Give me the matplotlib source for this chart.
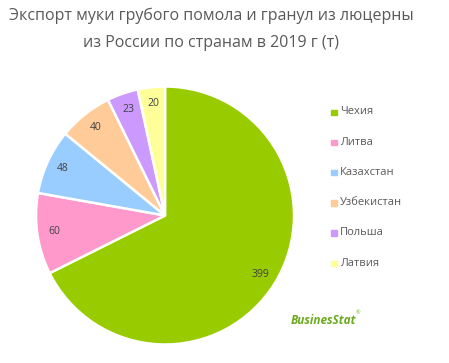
import matplotlib
matplotlib.use('Agg')
import matplotlib.pyplot as plt

countries = ['Чехия', 'Литва', 'Казахстан', 'Узбекистан', 'Польша', 'Латвия']
values = [399, 60, 48, 40, 23, 20]
colors = ['#99CC00', '#FF99CC', '#99CCFF', '#FFCC99', '#CC99FF', '#FFFF99']
title = 'Экспорт муки грубого помола и гранул из люцерны\nиз России по странам в 2019 г (т)'

W, H = 449, 363
fig = plt.figure(figsize=(W / 100, H / 100), dpi=100)
plt.rcParams['font.family'] = ['Open Sans', 'DejaVu Sans']

# pie centre (165, 215) px, radius 129 px
cx, cy, r = 165, 215.5, 129
ax = fig.add_axes([(cx - r) / W, (H - cy - r) / H, 2 * r / W, 2 * r / H])
wedges, texts = ax.pie(values, colors=colors, startangle=90, counterclock=False,
                       labels=[str(v) for v in values], labeldistance=0.87,
                       wedgeprops={'edgecolor': 'white', 'linewidth': 1.8})
for t in texts:
    t.set_ha('center')
    t.set_va('center')
    t.set_fontsize(7.5)
    t.set_color('#404040')
ax.set_xlim(-1, 1)
ax.set_ylim(-1, 1)
ax.set_aspect('equal')
ax.axis('off')

fig.text(0.47, 1 - 29 / H, title, ha='center', va='center', fontsize=11.5,
         color='#595959', linespacing=1.9)

# legend
for i, (name, col) in enumerate(zip(countries, colors)):
    y = 1 - (112 + 30.2 * i) / H
    fig.patches.append(plt.Rectangle((331 / W, y - 3 / H), 5.5 / W, 5.5 / H,
                                     transform=fig.transFigure, color=col))
    fig.text(340 / W, y, name, ha='left', va='center', fontsize=8, color='#595959')

# logo
fig.text(291 / W, 1 - 321 / H, 'BusinesStat', ha='left', va='center', fontsize=8.5,
         fontweight='bold', style='italic', color='#6BAA1E')
fig.text(356 / W, 1 - 313 / H, '®', ha='left', va='center', fontsize=4, color='#6BAA1E')

fig.savefig('out.png', dpi=100)
